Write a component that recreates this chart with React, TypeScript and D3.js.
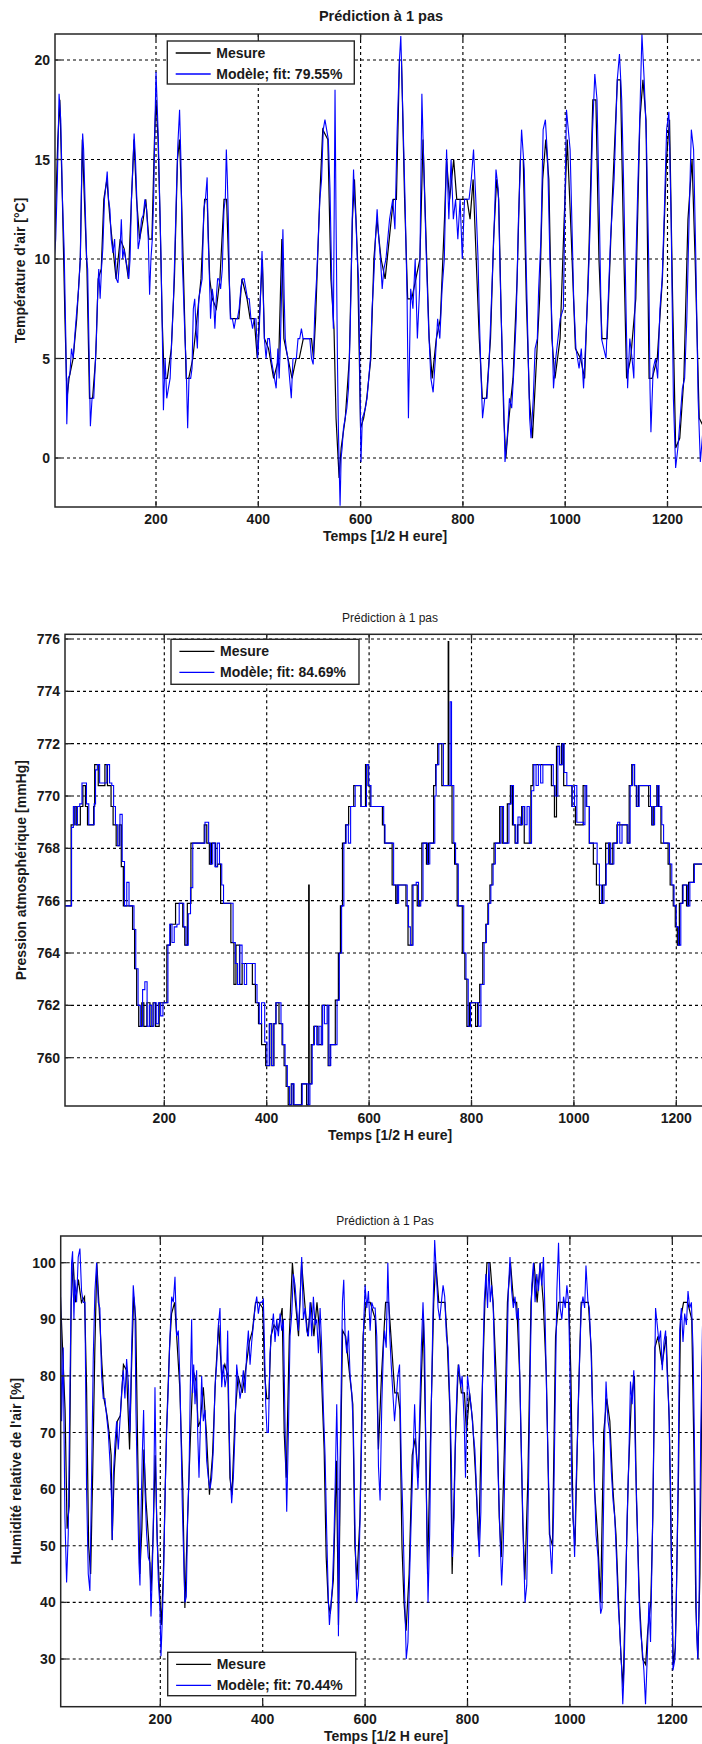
import React from 'react';
import * as d3 from 'd3';

type Pt = [number, number];

const xTicks = [200, 400, 600, 800, 1000, 1200];
const tempTicks = [0, 5, 10, 15, 20];
const presTicks = [760, 762, 764, 766, 768, 770, 772, 774, 776];
const humTicks = [30, 40, 50, 60, 70, 80, 90, 100];

const tempModele: Pt[] = [[1,10],[3.9,11],[7.2,14],[10.5,18.3],[13.8,17],[17.1,13],[20.4,10.5],[23.7,6],[25.6,1.7],[28.3,4],[31.6,4.2],[34.8,5.5],[38.1,5],[41.4,6.2],[45.4,7.5],[48.7,8.5],[52,10],[54.6,14],[56.6,16.3],[58.5,15.5],[61.2,13],[64.5,10],[66.4,9.5],[69.1,5.5],[71.7,1.6],[75,3],[78.3,3],[80.9,4.5],[83.5,6],[86.2,8.5],[88.1,9.5],[90.8,8],[93.4,9.5],[96,10.5],[99.3,13],[102.6,13.8],[104.6,14.4],[107.2,13],[109.9,12.5],[112.5,11],[115.8,10.3],[119.1,11],[122.4,9],[125.6,8.8],[128.9,10],[132.2,12],[134.9,10],[137.5,10.5],[140.8,10],[144.1,9.5],[146.7,9],[149.3,10],[152,13],[154.6,14.5],[157.2,16.3],[159.9,15],[162.5,13],[165.1,10.5],[168.4,11],[171.7,12],[175,12.2],[178.3,13],[181.6,12.5],[184.9,11],[187.5,8.2],[190.1,10],[192.8,11],[195.4,13],[197.4,16],[200,19.4],[202,18],[204.6,16],[207.2,13],[209.9,10],[212.5,6],[214.5,2.4],[217.8,5],[221,3],[224.3,3.5],[227.6,4],[230.9,6],[234.2,8],[237.5,11],[240.1,13.5],[242.8,15.8],[246.1,17.5],[248.7,15],[251.3,10],[254,8],[256.6,6],[258.6,5],[261.9,1.5],[264.5,4],[267.8,4],[270.4,4.5],[273,7.5],[275.7,8],[278.3,6.5],[280.9,5.5],[283.6,8],[286.9,8.5],[290.2,9],[293.4,12.5],[296.7,13],[300,14.1],[302,11],[304,9.5],[306.6,7],[309.9,8.5],[312.5,8],[315.2,6.5],[317.8,8],[320.4,9],[323,9],[326.3,8.5],[329.6,9.5],[332.9,12.5],[335.5,13],[337.5,15.5],[339.5,14],[341.5,12],[343.4,9],[345.4,7],[349.4,7],[352.7,6.5],[355.9,7],[359.2,7],[362.5,7.5],[365.8,8.5],[369.1,9],[372.4,9],[375.7,8.5],[379,8],[382.3,8],[385.6,7],[388.8,6.5],[392.1,7],[395.4,7],[398.7,5],[402,6.5],[405.3,9],[407.3,10.4],[409.9,8],[411.9,6],[415.2,5],[418.5,6],[421.7,6],[425,5],[428.3,4.5],[431.6,4],[434.9,3.5],[438.2,5.5],[440.8,4],[443.5,6],[446.1,9],[448.1,11.5],[450.7,8],[452.7,6],[454.7,5.5],[457.9,5],[461.2,4],[464.5,3],[467.8,5],[471.1,5],[474.4,5],[477.7,6],[481,6],[484.3,6.5],[487.5,6],[494.1,6],[500.7,6],[504,5],[507.3,4.7],[510.6,7.5],[513.9,9],[517.2,11],[520.4,13],[523.7,14],[527,16.5],[530.3,17],[533.6,16.5],[536.9,16],[540.2,13.5],[543.5,9],[546.8,6.5],[550,18.5],[552,12],[554.7,5],[556.6,1.5],[558.6,-1],[559.9,-2.4],[561.9,0],[563.9,0.5],[566.5,1.5],[569.8,2],[573.1,2.5],[576.4,3.5],[579.7,6.5],[581.6,9],[583.6,12],[586.2,14.5],[588.2,13],[590.8,12],[593.5,10],[596.1,9],[598.1,5],[600.7,-0.2],[603.4,2],[606,2.2],[609.3,2.5],[612.6,3],[615.9,4],[619.2,5],[622.4,7.5],[625.7,9],[629,11],[632.3,12.5],[635.6,11],[638.9,10],[642.2,8.5],[645.5,9.5],[649.6,10],[656.6,12],[662.8,13],[667.1,11.5],[671.5,16.5],[675.9,20],[678.6,21.2],[682.9,17],[687.3,12.5],[690.9,8],[693.5,2],[697.9,8.5],[702.3,7.5],[706.7,10],[711,6],[715.4,8.5],[719.8,18.3],[724.2,14],[728.6,10],[733,6.5],[737.4,4],[741.8,3.3],[746.2,5],[750.6,7],[754.9,6],[759.3,8.5],[763.7,10],[768.1,15.5],[772.5,12],[776.9,15],[781.3,12],[785.7,13],[790.1,11],[794.5,13],[798.8,10],[803.2,13],[812,13],[816.4,14],[820.8,15.5],[825.2,13],[829.6,10],[832.2,7],[835.7,4],[838.4,2],[842.7,3],[847.1,3],[851.5,5],[855.9,8],[860.3,11],[864.7,14.5],[869.1,13.5],[873.5,8.5],[876.1,6],[879.6,3],[882.3,-0.2],[886.6,1],[891,3],[895.4,2.5],[899.8,4.5],[904.2,7],[908.6,12],[914.7,16.5],[920,14.5],[923.5,10],[927,6],[930.5,2],[933.2,1],[937.6,3],[941.1,5.5],[945.5,6],[948.1,8.5],[952.5,11],[956.9,16.5],[961.3,17],[965.7,15],[970.1,10],[974.4,6.5],[977.1,3.5],[981.5,5],[985.9,6],[990.2,7],[996.4,7.5],[999,12],[1002.5,17.5],[1009.6,15.5],[1013.9,11],[1016.6,8],[1021,5.5],[1027.1,4.5],[1031.5,5.5],[1035.9,3.5],[1040.3,6],[1044.7,8.5],[1049.1,12],[1053.5,16.5],[1057.9,19.3],[1062.2,18],[1066.6,12.5],[1071,6],[1079.8,5],[1084.2,8],[1088.6,11],[1095.6,14],[1101.8,19],[1106.1,20.3],[1110.5,18],[1114.9,13],[1119.3,7],[1122,3.5],[1126.3,6],[1130.7,5],[1134.2,4],[1136.9,8.5],[1141.3,13],[1145.7,17],[1150,21.3],[1154.4,19],[1158.8,16],[1163.2,10],[1165.8,3.5],[1167.6,1.3],[1172,4.5],[1176.4,5],[1180.8,4],[1185.2,7.5],[1189.6,9],[1193.9,12.5],[1198.3,16.5],[1202.7,17.4],[1207.1,12],[1211.5,3],[1215.9,-0.5],[1220.3,0.5],[1224.7,2],[1229.1,3.5],[1233.5,4],[1237.8,7],[1242.2,12],[1246.6,16.5],[1251,15.5],[1255.4,10],[1259.8,3],[1264.2,-0.2],[1271.2,2]];

const tempMesure: Pt[] = [[1,10],[8,16],[12,18],[17,13],[22,7],[26,3],[30,4],[38,5],[45,7],[52,10],[56,16],[60,13],[65,9.5],[70,3],[76,3],[82,5],[87,9],[93,9.5],[98,13],[104,14],[110,12],[116,10.5],[122,9],[130,11],[138,10.5],[146,9],[152,13],[157,16],[162,13],[168,11],[175,12],[180,13],[186,11],[192,11],[197,16],[200,18],[204,16],[208,12],[212,7],[216,4],[222,4],[230,5.5],[236,9],[242,15],[246,16],[250,13],[255,8],[259,4],[264,4],[272,5],[280,7],[288,9],[295,13],[300,13],[305,9],[310,8],[318,7.5],[325,9],[333,13],[338,13],[343,9],[346,7],[362,7],[368,9],[378,8],[384,7],[392,7],[398,5],[402,7],[408,10],[412,6],[420,5.5],[430,4],[440,5],[446,11],[450,6],[458,5],[466,4],[474,5],[480,5],[488,6],[504,6],[508,5],[512,7],[520,13],[526,16.5],[536,16],[542,9],[548,6.5],[552,2],[558,-1],[562,0.5],[570,2],[578,5],[584,12],[588,14],[594,10],[600,1.5],[606,2],[612,3],[620,5],[626,10],[632,12],[640,10],[648,9],[656,11],[664,13],[670,13],[676,20],[680,20],[686,13],[692,8],[700,8],[708,9],[716,10],[722,16],[728,11],[734,6],[740,4],[748,6],[756,7],[764,12],[768,15],[774,13],[782,15],[788,13],[800,13],[808,13],[814,12],[820,14],[826,10],[832,6],[838,3],[846,3],[854,6],[860,11],[866,14],[870,13],[875,7],[880,2],[884,0],[890,2],[898,4],[906,9],[912,15],[918,15],[924,8],[930,3],[936,1],[942,4],[950,8],[956,14],[962,16],[968,14],[974,6],[980,4],[990,6],[998,12],[1004,16],[1012,11],[1020,5.5],[1030,5],[1038,4],[1046,10],[1054,18],[1060,18],[1066,10],[1072,6],[1082,6],[1092,13],[1102,19],[1108,19],[1114,11],[1120,4],[1128,5],[1138,8],[1146,17],[1152,19],[1158,17],[1164,4],[1170,4],[1180,5],[1190,9],[1198,15],[1204,17],[1210,8],[1216,0.5],[1224,1],[1232,4],[1240,12],[1248,15],[1254,10],[1262,2],[1272,1.5]];

const presModele: Pt[] = [[5,765.8],[16.2,765.8],[18.9,768.8],[22.4,769.6],[26,768.9],[30.4,769.6],[34.8,769.7],[39.2,770.5],[43.6,770.5],[48,769.7],[52.5,768.9],[60.4,768.9],[63.1,769.7],[65.7,771],[69.2,771.2],[73.7,770.5],[85.2,770.5],[87.8,771.2],[90.4,771.2],[93.1,770.5],[97.5,770.4],[101,769.6],[104.6,768.9],[109,768.1],[113.4,769.3],[117.8,767.5],[122.3,765.8],[126.7,766.7],[131.1,765.8],[136.4,765.8],[140.8,764.9],[144.3,763.4],[148.8,762],[153.2,761.2],[157.6,762.6],[162,762.9],[166.4,761.2],[170.8,762],[175.3,761.2],[179.7,762.1],[184.1,761.3],[188.5,762.1],[192.9,761.6],[197.3,762.1],[202.6,762.1],[207.1,764.3],[210.6,765.1],[215,764.4],[219.4,765],[224.7,765.1],[229.1,765.9],[233.6,765.9],[238,765],[242.4,764.3],[246.8,765.5],[251.2,766.5],[255.6,768.2],[276.9,768.2],[279.5,769],[283.9,769],[286.6,768.2],[290.1,767.4],[294.5,768.2],[298.9,767.3],[303.4,768.2],[307.8,767.4],[312.2,766.6],[315.7,765.9],[329.8,765.9],[334.3,764.4],[338.7,763.6],[343.1,762.8],[347.5,764.3],[351.9,763.6],[356.3,762.8],[360.8,763.6],[374,763.6],[377.6,762.8],[381.1,762.1],[385.5,761.3],[389.9,762.1],[396.1,760.6],[400.5,759.7],[404.9,761.3],[409.4,759.7],[413.8,761.3],[418.2,762.1],[423.5,762.1],[427.9,761.3],[431.4,760.5],[435.9,759.7],[440.3,758.9],[444.7,758.2],[449.1,759],[453.5,758.2],[466.8,758.2],[469.4,759],[477.4,759],[480.9,758.2],[484.4,759],[488.9,760.5],[493.3,761.2],[497.7,760.5],[502.1,761.2],[506.5,760.5],[509.2,762],[512.7,761.3],[518,762],[521.5,759.7],[525.1,760.5],[533,760.5],[537.4,762.2],[541.9,764],[546.3,765.8],[550.7,768.2],[555.1,768.9],[559.5,768.2],[563.9,769.6],[568.4,769.6],[572.8,770.4],[581.6,770.4],[584.3,769.6],[590.5,769.6],[594.9,771.2],[599.3,770.4],[603.7,769.6],[625.8,769.6],[628.5,768.9],[631.1,768.2],[643.5,768.2],[647.9,766.6],[652.3,766.6],[655,765.9],[657.6,766.6],[674.4,765.8],[677,765],[680.6,764.3],[685.9,766.6],[692,766.7],[696.5,765.8],[700.9,766],[705.3,768.2],[709.7,768.2],[714.1,767.4],[718.5,768.2],[724.7,768.2],[728.3,770],[730.9,771.2],[736.2,772],[742.4,772],[745.1,770.4],[753.9,770.4],[758.3,773.6],[761,770.4],[765.4,768.2],[768.9,767.4],[774.2,765.8],[780.4,765.8],[784.8,764],[789.2,763],[793.6,761.2],[798.1,762.1],[811.3,762.1],[814,761.2],[818.4,762.8],[824.6,764.4],[829,765.1],[833.4,765.9],[837.8,766.6],[842.2,767.4],[846.6,768.2],[853.7,768.2],[857.3,769.6],[862.5,768.2],[868.7,768.2],[873.1,769.7],[877.6,770.4],[882,768.9],[886.4,768.2],[890.8,769.2],[895.2,768.9],[899.6,769.6],[904.1,768.9],[908.5,769.6],[912.9,768.2],[917.3,770.2],[921.7,771.2],[926.1,770.4],[930.6,771.2],[935,770.5],[939.4,771.2],[957.1,771.2],[959.7,770.4],[963.3,770],[968.6,771.9],[972.1,771.2],[977.4,772],[980.9,770.9],[986.2,770.4],[992.4,770.4],[996.8,769.6],[1001.2,770.4],[1005.7,769],[1018.9,768.9],[1021.6,770.4],[1025.1,769.6],[1030.4,768.2],[1039.2,768.2],[1045.4,767.4],[1049.8,766.6],[1054.2,765.9],[1058.7,766.6],[1063.1,767.4],[1067.5,768.2],[1071.9,767.4],[1078.1,768.2],[1085.2,769],[1089.6,768.2],[1094,768.9],[1102.8,768.9],[1105.5,768.2],[1109.9,770.4],[1114.3,771.2],[1118.7,770.4],[1123.1,769.6],[1127.5,770.4],[1147,770.4],[1149.6,769.6],[1153.1,768.9],[1157.6,769.6],[1162.9,770.4],[1166.4,769.6],[1171.7,768.9],[1175.2,768.2],[1184.1,768.2],[1186.7,767.4],[1191.2,766.6],[1195.6,765.8],[1200,765],[1204.4,764.3],[1208.8,765.9],[1213.3,766.6],[1222.1,765.8],[1226.5,766.7],[1235.3,767.4],[1253,767.4],[1257.4,769],[1263.6,770.5],[1272,770.5]];

const presMesure: Pt[] = [[5,765.8],[16,765.8],[18,768.9],[24,769.6],[28,768.9],[36,769.6],[41,770.4],[46,769.6],[50,768.9],[62,769.6],[64,771.2],[71,770.4],[84,771.2],[89,770.4],[96,769.6],[100,768.9],[106,768.1],[112,768.9],[116,767.3],[120,765.8],[138,764.9],[142,763.4],[146,762],[150,761.2],[156,762.1],[160,761.2],[166,762.1],[172,761.2],[178,762.1],[183,761.2],[190,762.1],[205,764.3],[212,765.1],[222,765.9],[236,765],[240,764.3],[245,765.9],[252,768.2],[278,768.9],[283,768.2],[288,767.4],[292,768.2],[300,767.3],[304,767.4],[310,765.9],[330,764.4],[336,762.8],[340,764.3],[347,762.8],[352,763.6],[372,762.8],[378,762.1],[384,761.3],[390,760.5],[398,759.7],[406,761.3],[410,759.7],[414,761.3],[418,762.1],[424,761.3],[430,760.5],[434,759.7],[438,758.9],[442,758.2],[448,759],[452,758.2],[468,759],[478,758.2],[482,766.6],[483,759],[487,760.5],[492,761.2],[500,760.5],[508,762],[514,762],[520,759.7],[524,760.5],[534,762.2],[540,764],[544,765.8],[548,768.2],[554,768.9],[560,769.6],[570,770.4],[584,769.6],[593,771.2],[598,770.4],[602,769.6],[626,768.9],[630,768.2],[645,766.6],[652,765.9],[655,766.6],[672,765.8],[676,764.3],[684,766.6],[694,765.8],[699,766],[703,768.2],[712,767.4],[716,768.2],[726,770.4],[730,771.2],[734,772],[742,770.4],[754.5,775.9],[755.5,770.4],[762,768.2],[767,767.4],[772,765.8],[782,764],[787,763],[791,761.2],[796,762.1],[808,761.2],[812,762.1],[816,762.8],[822,764.4],[828,765.1],[832,765.9],[836,766.6],[840,767.4],[844,768.2],[855,769.6],[860,768.2],[870,769.7],[876,770.4],[880,768.9],[885,768.2],[890,768.9],[898,769.6],[903,768.2],[910,768.2],[916,770.4],[920,771.2],[956,770.4],[962,769.2],[966,771.9],[972,771.2],[976,772],[980,770.4],[996,769.6],[1003,768.9],[1018,770.4],[1024,769.6],[1030,768.2],[1038,767.4],[1044,766.6],[1050,765.9],[1056,766.6],[1062,768.2],[1070,767.4],[1076,768.2],[1084,768.9],[1104,768.2],[1108,770.4],[1113,771.2],[1118,770.4],[1122,769.6],[1126,770.4],[1146,769.6],[1152,768.9],[1156,769.6],[1162,770.4],[1165,769.6],[1170,768.2],[1184,767.4],[1188,766.6],[1194,765.8],[1198,765],[1202,764.3],[1206,765.9],[1212,766.6],[1220,765.8],[1224,766.7],[1234,767.4],[1252,767.4],[1256,769],[1262,770.5],[1272,770.5]];

const humModele: Pt[] = [[5,98],[7.2,72],[10.4,85],[13.7,55],[17,43.5],[20.2,52],[23.5,78],[26.7,100],[28.7,102],[31.3,90],[33.2,97],[36.5,93],[39.7,101],[43,102.5],[46.2,95],[49.5,93],[52.8,93],[56,60],[59.3,45],[62.5,42],[65.8,62],[69,83],[72.3,95],[75.6,100],[78.8,93],[82,92],[85.3,80],[88.6,76],[91.8,76],[95,73],[98.4,70],[101.6,65],[104.9,58],[106.2,51],[108.1,62],[111.4,68],[114.7,72],[117.9,67],[121.2,72],[124.4,77],[127.7,81],[130.9,76],[134.2,83],[137.5,79],[140.7,70],[144,85],[147.2,96],[150.5,92],[152.4,74],[155.7,58],[158.3,47],[160.3,43],[162.2,55],[164.8,66],[167.4,74],[170,60],[173.3,52],[176.5,48],[179.8,47],[181.8,37.5],[184.4,45],[187,57],[189.6,78],[192.8,55],[196.1,44],[199.3,39],[201.3,30.5],[203.9,37],[206.5,45],[209.1,58],[212.4,70],[215.6,78],[218.9,87],[222.2,94],[225.4,93],[228.7,97.5],[231.9,87],[235.2,88],[238.4,79],[240.4,70],[243,57],[245.6,48],[248.2,40],[250.8,41],[253.4,55],[256,62],[258.6,78],[261.2,90],[263.2,77],[265.2,82],[267.8,75],[271,81],[273,70],[275.6,62],[278.2,71],[280.8,80],[284,72],[287.3,74],[290.6,65],[293.8,62],[297.1,60],[300.3,62],[303.6,67],[306.8,78],[310.1,82],[313.4,89],[316.6,92],[319.9,78],[323.1,82],[326.4,78],[329.6,80],[331.6,88],[334.2,72],[336.8,62],[339.4,57.5],[342.7,62],[345.9,70],[349.2,82],[352.5,79],[355.7,76],[359,78],[362.2,81],[365.5,77],[368.7,84],[372,88],[375.3,82],[378.5,86],[381.8,89],[385,92],[388.3,94],[391.5,91],[394.8,93],[398.1,93],[401.3,93.5],[403.3,86],[405.9,75],[408.5,70],[411.1,70],[414.3,84],[417.6,88],[420.9,91],[424.1,86],[427.4,90],[430.6,87],[433.9,91],[437.1,88],[440.4,90],[443.7,71],[446.9,56],[450.2,70],[453.4,87],[456.7,91],[459.9,98],[463.2,96],[466.5,92],[469.7,88],[473,94],[476.2,101],[479.5,90],[482.7,92],[486,88],[489.3,87],[492.5,93],[495.8,87],[499,94],[502.3,89],[505.5,90],[508.8,84],[512.1,92],[515.3,85],[518.6,74],[521.8,66],[525.1,52],[528.4,40],[530.3,36],[533.6,40],[536.2,43],[538.8,50],[541.4,60],[544.6,75],[546.6,65],[547.9,34],[551.2,65],[553.1,77],[555.7,93],[558.3,97],[561,87],[564.2,84],[567.5,88],[570.7,80],[574,77],[577.2,70],[580.5,52],[583.7,40],[587,43],[590.2,55],[593.5,70],[596.8,88],[600,96],[603.3,92],[606.5,95],[609.8,88],[613,93],[616.3,92],[619.6,92],[622.8,87],[626.1,64],[629.3,58],[632.6,75],[635.8,85],[637.9,88],[641.2,85],[644.4,100],[647.7,88],[651,82],[654.2,77],[657.5,72],[660.8,76],[664,80],[667.3,82],[670.6,65],[673.9,55],[677.1,42],[680.4,30],[683.7,33],[687,45],[690.2,55],[693.5,65],[696.7,75],[700,66],[703.3,60],[706.5,73],[709.8,85],[713.1,93],[716.3,85],[719.6,60],[722.9,40],[726.1,52],[729.4,75],[732.7,92],[735.9,104],[739.2,98],[742.5,92],[745.7,90],[749,93],[752.3,96],[755.5,94],[758.8,87],[762.1,85],[765.3,76],[768.6,65],[770.6,48],[773.9,55],[776.5,70],[780.4,80],[783,82],[786.9,78],[789.5,80],[793.5,72],[796.1,62],[800,80],[802.6,78],[805.2,76],[807.8,74],[811.1,70],[814.4,67],[817.6,60],[820.9,52],[822.9,48],[826.1,56],[829.4,80],[832.7,93],[835.9,98],[839.2,92],[841.8,100],[844.4,93],[847.1,96],[850.3,92],[853.6,80],[856.9,72],[860.1,62],[863.4,52],[866.7,43],[869.9,50],[873.2,65],[876.5,80],[879.7,95],[883,101],[886.3,95],[889.5,92],[892.8,94],[896.1,90],[899.3,92],[902.6,78],[905.9,64],[909.2,50],[912.4,40],[915.7,43],[919,60],[922.2,80],[925.5,96],[928.8,100],[932,93],[935.3,98],[938.6,95],[941.8,100],[945.1,96],[948.4,101],[951.6,90],[954.9,75],[958.2,62],[961.4,50],[964.7,45],[968,55],[971.2,75],[974.5,95],[977.8,103.5],[981,92],[984.3,90],[987.6,94],[990.9,92],[994.1,96],[997.4,93],[1000.7,78],[1003.9,60],[1007.2,53],[1009.2,48],[1011.8,60],[1015.7,72],[1019,83],[1022.2,92],[1025.5,94],[1028.8,92],[1031.4,99.5],[1035.3,93],[1037.9,92],[1041.2,85],[1044.4,73],[1047.7,62],[1051,52],[1054.9,48],[1057.5,42],[1060.1,38],[1062.7,39],[1068,70],[1070.6,79],[1074.5,72],[1077.8,70],[1081,63],[1084.3,58],[1087.6,55],[1090.9,48],[1094.1,40],[1096.7,36],[1100.7,29],[1103.3,22],[1105.9,28],[1108.5,40],[1111.8,55],[1115,65],[1118.3,79],[1121.6,75],[1124.8,81],[1128.1,65],[1131.4,55],[1134.6,42],[1137.9,35],[1141.2,32],[1144.5,28],[1147.7,22],[1151,30],[1154.3,40],[1157.5,33],[1160.8,50],[1164.1,70],[1167.3,92],[1170.6,89],[1173.9,86],[1177.1,88],[1180.4,81],[1183.7,86],[1186.9,88],[1190.2,80],[1193.5,74],[1196.7,60],[1198.7,45],[1201.3,28],[1205.2,30],[1207.9,40],[1211.1,60],[1214.4,88],[1217.7,92],[1220.9,86],[1224.2,91],[1227.5,89],[1230.7,95],[1234,92],[1237.3,93],[1240.5,85],[1243.8,65],[1247.1,36],[1249.7,30],[1252.3,40],[1255.6,70],[1258.8,88],[1261.4,97],[1272,95]];

const humMesure: Pt[] = [[5,94],[10,83],[14,74],[18,53],[22,57],[26,93],[30,100],[34,93],[40,97],[46,93],[52,94],[56,78],[60,50],[64,45],[68,63],[72,84],[76,100],[80,93],[86,82],[90,76],[96,73],[100,70],[104,66],[106,51],[110,63],[116,72],[122,73],[128,82],[134,81],[140,67],[144,82],[148,94],[152,90],[156,66],[160,45],[164,53],[168,67],[172,58],[178,50],[182,42],[186,52],[190,66],[194,51],[198,43],[202,36],[206,45],[212,70],[218,85],[222,91],[228,93],[232,87],[238,78],[244,60],[248,39],[252,51],[256,62],[260,72],[264,81],[270,79],[274,71],[278,72],[284,78],[290,70],[296,59],[302,66],[308,80],[314,89],[320,80],[326,82],[332,80],[336,62],[340,59],[346,73],[352,80],[360,77],[368,82],[374,86],[380,88],[386,93],[392,93],[400,92],[404,80],[408,76],[412,76],[416,87],[422,89],[430,88],[438,92],[442,70],[446,62],[452,87],[458,100],[464,93],[470,87],[476,100],[482,93],[488,87],[494,93],[500,87],[506,93],[512,87],[516,77],[520,67],[524,48],[528,40],[532,38],[538,44],[544,65],[548,36],[552,65],[556,88],[562,87],[570,80],[576,75],[580,50],[584,44],[590,55],[596,87],[602,93],[610,93],[620,90],[626,67],[632,80],[640,93],[646,93],[652,85],[658,77],[664,77],[668,74],[672,50],[676,40],[680,35],[686,45],[692,66],[698,69],[704,62],[710,80],[714,90],[718,70],[722,45],[728,70],[734,93],[738,100],[744,93],[756,93],[760,87],[766,73],[770,45],[776,67],[782,82],[788,77],[794,77],[798,70],[804,77],[810,72],[816,62],[822,50],[828,75],[834,93],[838,100],[844,100],[850,93],[856,80],[862,55],[866,48],[872,67],[878,93],[884,100],[890,93],[896,93],[902,80],[908,54],[912,44],[918,62],[924,93],[930,100],[936,93],[942,100],[948,93],[954,80],[960,52],[966,50],[972,87],[978,93],[998,93],[1002,80],[1006,55],[1010,50],[1016,74],[1022,93],[1036,93],[1042,84],[1048,60],[1054,52],[1060,40],[1066,70],[1072,76],[1078,72],[1084,60],[1090,52],[1096,38],[1100,30],[1104,25],[1108,40],[1114,62],[1120,76],[1126,80],[1130,58],[1136,40],[1142,30],[1148,29],[1152,35],[1158,40],[1162,55],[1166,85],[1172,87],[1180,82],[1188,87],[1194,72],[1198,48],[1202,29],[1206,32],[1212,62],[1216,90],[1222,93],[1230,93],[1238,90],[1242,68],[1246,39],[1250,30],[1254,45],[1258,80],[1262,93],[1272,93]];

const FONT = '"Liberation Sans", Arial, Helvetica, sans-serif';

interface PanelCfg {
  title: string; titleBold: boolean; titleSize: number; titleX: number; titleY: number;
  ylabel: string; ylabelX: number; xlabelX: number;
  left: number; top: number; bottom: number; right: number;
  xCal: [number, number, number, number]; yCal: [number, number, number, number];
  yTicks: number[]; modele: Pt[]; mesure: Pt[]; step: boolean;
  legend: { x: number; y: number; w: number; h: number; text: string };
}

const panels: PanelCfg[] = [
  {
    title: 'Prédiction à 1 pas', titleBold: true, titleSize: 14.5, titleX: 381, titleY: 21,
    ylabel: "Température d'air [°C]", ylabelX: 24.5, xlabelX: 385,
    left: 55, top: 34, bottom: 507, right: 706,
    xCal: [200, 400, 156, 258.3], yCal: [0, 20, 458, 60],
    yTicks: tempTicks, modele: tempModele, mesure: tempMesure, step: false,
    legend: { x: 167.3, y: 41, w: 187, h: 43, text: 'Modèle; fit: 79.55%' },
  },
  {
    title: 'Prédiction à 1 pas', titleBold: false, titleSize: 12, titleX: 390, titleY: 622,
    ylabel: 'Pression atmosphérique [mmHg]', ylabelX: 26, xlabelX: 390,
    left: 65, top: 634.3, bottom: 1106, right: 715,
    xCal: [200, 400, 164.3, 266.7], yCal: [760, 776, 1057.7, 639],
    yTicks: presTicks, modele: presModele, mesure: presMesure, step: true,
    legend: { x: 171, y: 639.3, w: 188, h: 45, text: 'Modèle; fit: 84.69%' },
  },
  {
    title: 'Prédiction à 1 Pas', titleBold: false, titleSize: 12, titleX: 385, titleY: 1225,
    ylabel: "Humidité relative de l'air [%]", ylabelX: 20.5, xlabelX: 386,
    left: 60.7, top: 1236, bottom: 1706.7, right: 711,
    xCal: [200, 400, 160.3, 262.7], yCal: [30, 100, 1659, 1262.7],
    yTicks: humTicks, modele: humModele, mesure: humMesure, step: false,
    legend: { x: 167.7, y: 1652.3, w: 188, h: 43.4, text: 'Modèle; fit: 70.44%' },
  },
];

function Panel({ cfg, idx }: { cfg: PanelCfg; idx: number }) {
  const xs = d3.scaleLinear().domain([cfg.xCal[0], cfg.xCal[1]]).range([cfg.xCal[2], cfg.xCal[3]]);
  const ys = d3.scaleLinear().domain([cfg.yCal[0], cfg.yCal[1]]).range([cfg.yCal[2], cfg.yCal[3]]);
  const curve = cfg.step ? d3.curveStepAfter : d3.curveLinear;
  const line = d3.line<Pt>().x(d => xs(d[0])).y(d => ys(d[1])).curve(curve);
  const clipId = `clip${idx}`;
  const { left, top, bottom, right } = cfg;
  const visXTicks = xTicks.filter(t => xs(t) > left + 2 && xs(t) < right - 2);
  const tickLen = 6;
  const L = cfg.legend;
  const axisColor = '#262626';
  return (
    <g>
      <defs>
        <clipPath id={clipId}>
          <rect x={left} y={top} width={right - left} height={bottom - top} />
        </clipPath>
      </defs>
      <rect x={left} y={top} width={right - left} height={bottom - top} fill="#fff" />
      <g stroke="#000" strokeWidth={1.15} strokeDasharray="3,3">
        {visXTicks.map(t => (
          <line key={'gx' + t} x1={xs(t)} x2={xs(t)} y1={top} y2={bottom} />
        ))}
        {cfg.yTicks.map(t => (
          <line key={'gy' + t} x1={left} x2={right} y1={ys(t)} y2={ys(t)} />
        ))}
      </g>
      <g clipPath={`url(#${clipId})`} fill="none" strokeLinejoin="miter">
        <path d={line(cfg.mesure) || ''} stroke="#000" strokeWidth={1.2} />
        <path d={line(cfg.modele) || ''} stroke="#0000ff" strokeWidth={1.1} />
      </g>
      <rect x={left} y={top} width={right - left} height={bottom - top} fill="none" stroke={axisColor} strokeWidth={1.5} />
      <g stroke={axisColor} strokeWidth={1.3}>
        {visXTicks.map(t => (
          <g key={'tx' + t}>
            <line x1={xs(t)} x2={xs(t)} y1={bottom} y2={bottom - tickLen} />
            <line x1={xs(t)} x2={xs(t)} y1={top} y2={top + tickLen} />
          </g>
        ))}
        {cfg.yTicks.map(t => (
          <line key={'ty' + t} x1={left} x2={left + tickLen} y1={ys(t)} y2={ys(t)} />
        ))}
      </g>
      <g fontFamily={FONT} fontWeight="bold" fontSize={14} fill="#1a1a1a">
        {visXTicks.map(t => (
          <text key={'lx' + t} x={xs(t)} y={bottom + 17} textAnchor="middle">{t}</text>
        ))}
        {cfg.yTicks.map(t => (
          <text key={'ly' + t} x={left - 5} y={ys(t)} dy="0.36em" textAnchor="end">{t}</text>
        ))}
      </g>
      <text x={cfg.titleX} y={cfg.titleY} textAnchor="middle" fontFamily={FONT}
        fontWeight={cfg.titleBold ? 'bold' : 'normal'} fontSize={cfg.titleSize} fill="#1a1a1a">{cfg.title}</text>
      <text x={cfg.xlabelX} y={bottom + 34} textAnchor="middle" fontFamily={FONT}
        fontWeight="bold" fontSize={14} fill="#1a1a1a">Temps [1/2 H eure]</text>
      <text transform={`translate(${cfg.ylabelX},${(top + bottom) / 2}) rotate(-90)`} textAnchor="middle"
        fontFamily={FONT} fontWeight="bold" fontSize={14} fill="#1a1a1a">{cfg.ylabel}</text>
      <g>
        <rect x={L.x} y={L.y} width={L.w} height={L.h} fill="#fff" stroke={axisColor} strokeWidth={1.4} />
        <line x1={L.x + 8.4} x2={L.x + 43.4} y1={L.y + 12} y2={L.y + 12} stroke="#000" strokeWidth={1.3} />
        <line x1={L.x + 8.4} x2={L.x + 43.4} y1={L.y + 33} y2={L.y + 33} stroke="#0000ff" strokeWidth={1.3} />
        <text x={L.x + 49} y={L.y + 12} dy="0.36em" fontFamily={FONT} fontWeight="bold" fontSize={14} fill="#1a1a1a">Mesure</text>
        <text x={L.x + 49} y={L.y + 33} dy="0.36em" fontFamily={FONT} fontWeight="bold" fontSize={14} fill="#1a1a1a">{L.text}</text>
      </g>
    </g>
  );
}

export default function App() {
  return (
    <svg width={702} height={1744} viewBox="0 0 702 1744"
      style={{ position: 'absolute', left: 0, top: 0, background: '#fff' }}>
      <rect x={0} y={0} width={702} height={1744} fill="#fff" />
      {panels.map((p, i) => <Panel key={i} cfg={p} idx={i} />)}
    </svg>
  );
}
